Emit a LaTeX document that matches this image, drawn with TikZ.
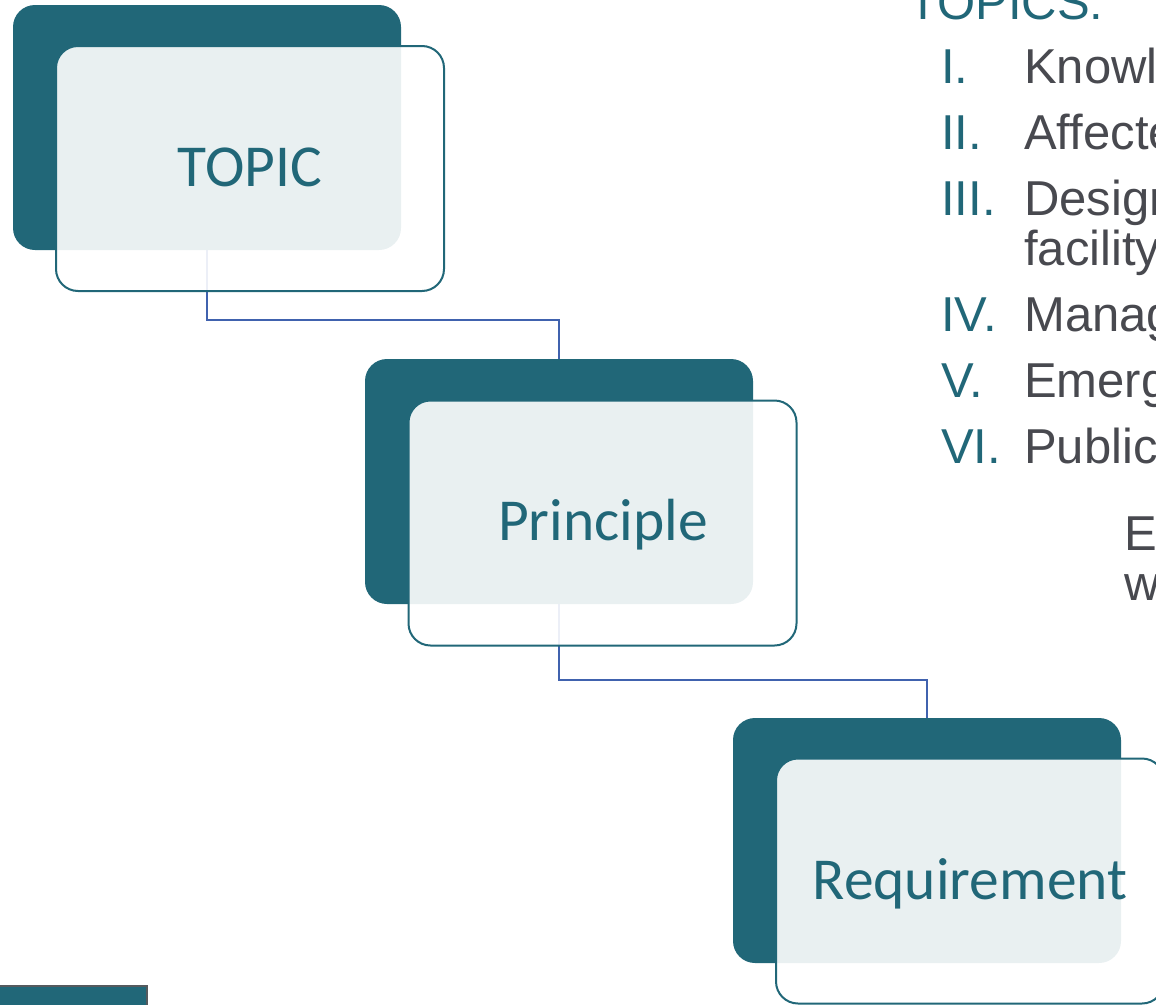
\documentclass[tikz,border=0pt]{standalone}
\usepackage{fontspec}
\setmainfont{Liberation Sans}
\newfontfamily\boxfont{Carlito}
\usetikzlibrary{calc,backgrounds}
\definecolor{teal1}{HTML}{216778}
\definecolor{conn}{HTML}{4062AE}
\definecolor{txtgray}{HTML}{48494F}
\definecolor{edgegray}{HTML}{555A5E}
\begin{document}
\begin{tikzpicture}[x=1pt,y=-1pt,
 darkbox/.style={fill=teal1, rounded corners=22pt, minimum width=388pt, minimum height=245pt, inner sep=0pt, outer sep=0pt},
 litebox/.style={draw=teal1, line width=2pt, fill=white, fill opacity=0.9, rounded corners=22pt, minimum width=388pt, minimum height=245pt, inner sep=0pt, outer sep=0pt},
 boxtext/.style={font=\boxfont\fontsize{59.5}{70}\selectfont, text=teal1, anchor=base, inner sep=0pt},
 link/.style={draw=conn, line width=2.2pt},
 numtext/.style={font=\fontsize{49}{50}\selectfont, text=teal1, anchor=base west, inner sep=0pt},
 itemtext/.style={font=\fontsize{49}{50}\selectfont, text=txtgray, anchor=base west, inner sep=0pt}]
\useasboundingbox (0,0) rectangle (1156,1004);
\clip (0,0) rectangle (1156,1004);

% boxes
\node[darkbox] (d1) at (207,127.5) {};
\node[litebox] (o1) at (250,168.5) {};
\node[boxtext] (t1) at (250,186) {TOPIC};

\node[darkbox] (d2) at (559,481.5) {};
\node[litebox] (o2) at (602.5,523) {};
\node[boxtext] (t2) at (603,540) {Principle};

\node[darkbox] (d3) at (927,840.5) {};
\node[litebox] (o3) at (970,881) {};
\node[boxtext] (t3) at (970,899) {Requirement};

% connectors under the boxes
\begin{pgfonlayer}{background}
\draw[link] (d1.south) -- ++(0,70) -| (d2.north);
\draw[link] (d2.south) -- ++(0,76) -| (d3.north);
\end{pgfonlayer}

% right-hand list
\node[numtext] (h) at (908,19) {TOPICS:};
\node[numtext] (n1) at (941,83) {I.};
\node[numtext] (n2) at (941,149) {II.};
\node[numtext] (n3) at (941,215) {III.};
\node[numtext] (n4) at (941,331) {IV.};
\node[numtext] (n5) at (941,397) {V.};
\node[numtext] (n6) at (941,463) {VI.};
\node[itemtext] (i1) at (1024,83) {Knowle};
\node[itemtext] (i2) at (1024,149) {Affecte};
\node[itemtext] (i3) at (1024,215) {Design};
\node[itemtext] (i3b) at (1024,265) {facility};
\node[itemtext] (i4) at (1024,331) {Manag};
\node[itemtext] (i5) at (1024,397) {Emerg};
\node[itemtext] (i6) at (1024,463) {Public};
\node[itemtext] (e1) at (1124,550) {Ea};
\node[itemtext] (e2) at (1124,600) {w};

% bottom-left tab
\node[draw=edgegray, line width=2pt, fill=teal1, minimum width=148pt, minimum height=40pt, inner sep=0pt] (tab) at (73,1006) {};
\end{tikzpicture}
\end{document}
